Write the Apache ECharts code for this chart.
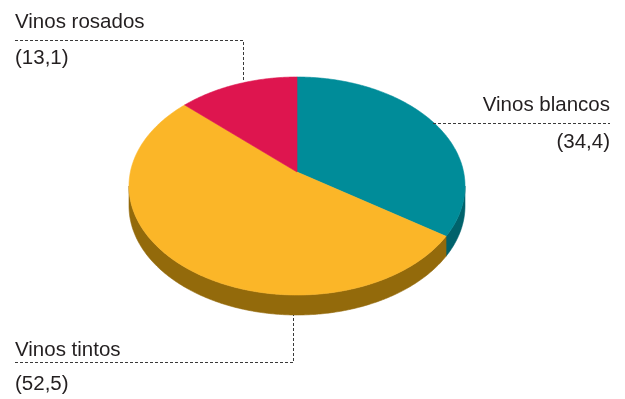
<!DOCTYPE html>
<html>
<head>
<meta charset="utf-8">
<script src="https://cdn.jsdelivr.net/npm/echarts@6/dist/echarts.min.js"></script>
<style>
  html, body { margin: 0; padding: 0; background: #ffffff; }
  #chart { width: 625px; height: 399px; }
</style>
</head>
<body>
<div id="chart"></div>
<script>
// Consumo de vino por tipo (%)
const categories = ['Vinos blancos', 'Vinos tintos', 'Vinos rosados'];
const shares = [34.4, 52.5, 13.1];
const topColors = ['#008C99', '#FBB628', '#DE154F'];
const sideColors = ['#00626B', '#936A0B', '#8E0E33'];

// Label layout: text anchor positions and dashed leader paths (pixels)
const labelLayout = [
  { x: 610, align: 'right', nameY: 105.5, valueY: 142.5,
    leader: [[433, 123.5], [610, 123.5]] },
  { x: 15, align: 'left', nameY: 350, valueY: 384.5,
    leader: [[15, 362.5], [293.5, 362.5], [293.5, 315]] },
  { x: 15, align: 'left', nameY: 22.5, valueY: 58,
    leader: [[15, 40.5], [243.5, 40.5], [243.5, 82]] }
];

const TILT = 0.1284;   // perspective strength of the tilted disc
const DEPTH = 20;      // thickness of the disc, px
const FONT = '20.5px "Liberation Sans", Arial, sans-serif';
const TEXT_COLOR = '#231F20';

// cumulative start / end fractions of each slice, clockwise from 12 o'clock
const total = shares.reduce((a, b) => a + b, 0);
const sliceData = [];
let acc = 0;
shares.forEach((v, i) => {
  sliceData.push([acc / total, (acc + v) / total, i]);
  acc += v;
});

// project an angle on the flat disc to the tilted view (axis units)
function project(theta) {
  const u = Math.sin(theta), v = Math.cos(theta);
  const w = 1 + TILT * v;
  return [u / w, v / w];
}

function arcPoints(api, a0, a1) {
  const n = Math.max(2, Math.ceil(Math.abs(a1 - a0) / 0.01));
  const pts = [];
  for (let k = 0; k <= n; k++) {
    const t = a0 + (a1 - a0) * k / n;
    pts.push(api.coord(project(t)));
  }
  return pts;
}

const TWO_PI = Math.PI * 2;
// visible front band of the rim: between the two silhouette points
const FRONT_START = Math.acos(-TILT);
const FRONT_END = TWO_PI - FRONT_START;

function renderSide(params, api) {
  const a0 = api.value(0) * TWO_PI, a1 = api.value(1) * TWO_PI;
  const idx = api.value(2);
  const s = Math.max(a0, FRONT_START), e = Math.min(a1, FRONT_END);
  if (e <= s) return null;
  const upper = arcPoints(api, s, e);
  const lower = upper.map(p => [p[0], p[1] + DEPTH]).reverse();
  return {
    type: 'polygon',
    shape: { points: upper.concat(lower) },
    style: { fill: sideColors[idx], stroke: sideColors[idx], lineWidth: 0.6 }
  };
}

function renderTop(params, api) {
  const a0 = api.value(0) * TWO_PI, a1 = api.value(1) * TWO_PI;
  const idx = api.value(2);
  const center = api.coord([0, 0]);
  const pts = [center].concat(arcPoints(api, a0, a1));
  return {
    type: 'polygon',
    shape: { points: pts },
    style: { fill: topColors[idx], stroke: topColors[idx], lineWidth: 0.6 }
  };
}

function fmt(v) {
  return '(' + v.toFixed(1).replace('.', ',') + ')';
}

const graphics = [];
categories.forEach((name, i) => {
  const L = labelLayout[i];
  graphics.push({
    type: 'polyline', silent: true, z: 10,
    shape: { points: L.leader },
    style: { stroke: '#3a3a3a', lineWidth: 1, lineDash: [3, 2], fill: null }
  });
  graphics.push({
    type: 'text', z: 10,
    style: { x: L.x, y: L.nameY, text: name, font: FONT, fill: TEXT_COLOR,
             align: L.align, verticalAlign: 'middle' }
  });
  graphics.push({
    type: 'text', z: 10,
    style: { x: L.x, y: L.valueY, text: fmt(shares[i]), font: FONT, fill: TEXT_COLOR,
             align: L.align, verticalAlign: 'middle' }
  });
});

const chart = echarts.init(document.getElementById('chart'), null, { renderer: 'canvas' });
chart.setOption({
  animation: false,
  backgroundColor: '#ffffff',
  grid: { left: 130.4, right: 161.4, top: 64.8, bottom: 119.8 },
  xAxis: { type: 'value', min: -1, max: 1, show: false },
  yAxis: { type: 'value', min: -1, max: 1, show: false },
  series: [
    { type: 'custom', name: 'lateral', coordinateSystem: 'cartesian2d',
      renderItem: renderSide, data: sliceData, z: 1, silent: true },
    { type: 'custom', name: 'superficie', coordinateSystem: 'cartesian2d',
      renderItem: renderTop, data: sliceData, z: 2, silent: true }
  ],
  graphic: graphics
});
</script>
</body>
</html>
